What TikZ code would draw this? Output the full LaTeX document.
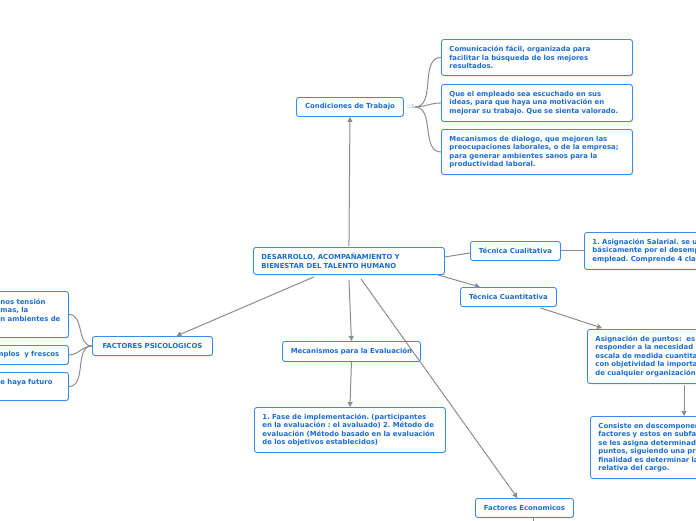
\documentclass[tikz,border=0pt]{standalone}
\usepackage{fontspec}
\setmainfont{DejaVu Sans}
\usepackage{tikz}
\usetikzlibrary{positioning,arrows.meta,calc,shadows}
\frenchspacing
\definecolor{mapblue}{HTML}{3D8BE8}
\definecolor{inkblue}{HTML}{1B6DD6}
\definecolor{linkgray}{HTML}{8C8C8C}
\definecolor{markblue}{HTML}{8DB8EE}
\tikzset{
  >={Triangle[length=5pt, width=5pt]},
  every node/.style={font=\bfseries\fontsize{6.9}{8.5}\selectfont, text=inkblue},
  topic/.style={draw=mapblue, fill=white, rounded corners=2.5pt, line width=0.9pt,
    anchor=north west, inner xsep=8pt, inner ysep=2pt,
    drop shadow={shadow xshift=0.6pt, shadow yshift=-0.8pt, opacity=0.25}},
  flow/.style={->, line width=1pt, draw=linkgray},
  link/.style={line width=1pt, draw=linkgray},
  foldmark/.style={font=\bfseries\fontsize{5}{5}\selectfont, text=markblue, inner sep=0pt},
}

\begin{document}
\begin{tikzpicture}[x=1pt, y=-1pt]
  \useasboundingbox (0,0) rectangle (696,520);
  \clip (0,0) rectangle (696,520);

  % TEMA CENTRAL
  \node[topic, text width=175pt, minimum height=27pt, align=left] (main) at (253,247)
    {DESARROLLO, ACOMPAÑAMIENTO Y\\BIENESTAR DEL TALENTO HUMANO};

  % RAMA SUPERIOR: condiciones de trabajo
  \node[topic, text width=91pt, minimum height=19pt, align=center] (cond) at (296,97)
    {Condiciones de Trabajo};
  \node[foldmark, right=3pt of cond] (fold) {::1};
  \node[topic, text width=175pt, minimum height=36pt, align=left] (c1) at (441,39)
    {Comunicación fácil, organizada para\\facilitar la búsqueda de los mejores\\resultados.};
  \node[topic, text width=175pt, minimum height=37pt, align=left] (c2) at (441,84)
    {Que el empleado sea escuchado en sus\\ideas, para que haya una motivación en\\mejorar su trabajo. Que se sienta valorado.};
  \node[topic, text width=175pt, minimum height=45pt, align=left] (c3) at (441,129)
    {Mecanismos de dialogo, que mejoren las\\preocupaciones laborales, o de la empresa;\\para generar ambientes sanos para la\\productividad laboral.};

  % RAMA DERECHA: tecnicas
  \node[topic, text width=74pt, minimum height=19pt, align=center] (cual) at (470,241)
    {Técnica Cualitativa};
  \node[topic, text width=124pt, minimum height=37pt, align=left] (asal) at (584,232)
    {1. Asignación Salarial. se u\\básicamente por el desemp\\emplead. Comprende 4 cla};
  \node[topic, text width=80pt, minimum height=19pt, align=center] (cuan) at (460,287)
    {Técnica Cuantitativa};
  \node[topic, text width=124pt, minimum height=54pt, align=left] (apun) at (587,329)
    {Asignación de puntos:\ \ es\\responder a la necesidad\\escala de medida cuantita\\con objetividad la importa\\de cualquier organización};
  \node[topic, text width=124pt, minimum height=62pt, align=left] (cons) at (590,416)
    {Consiste en descomponer\\factores y estos en subfa\\se les asigna determinad\\puntos, siguiendo una pr\\finalidad es determinar la\\relativa del cargo.};

  % RAMA IZQUIERDA: factores psicologicos
  \node[topic, text width=104pt, minimum height=19pt, align=center] (psico) at (92,336)
    {FACTORES PSICOLOGICOS};
  \node[topic, text width=60pt, minimum height=46pt, align=left] (l1) at (-8,291)
    {nos tensión\\mas, la\\n ambientes de\\\mbox{}};
  \node[topic, text width=64pt, minimum height=19pt, align=left] (l2) at (-12,345)
    {mplos\ \ y frescos};
  \node[topic, text width=60pt, minimum height=28pt, align=left] (l3) at (-8,372)
    {e haya futuro\\\mbox{}};

  % RAMA INFERIOR: evaluacion y factores economicos
  \node[topic, text width=122pt, minimum height=20pt, align=center] (meca) at (282,341)
    {Mecanismos para la Evaluación};
  \node[topic, text width=175pt, minimum height=45pt, align=left] (fase) at (254,407)
    {1. Fase de implementación. (participantes\\en la evaluación : el avaluado) 2. Método de\\evaluación (Método basado en la evaluación\\de los objetivos establecidos)};
  \node[topic, text width=82pt, minimum height=19pt, align=center] (econ) at (475,498)
    {Factores Economicos};
  \coordinate (econdown) at ($(econ.south)+(9,12)$);

  % ==========================================
  % CONECTORES
  % ==========================================
  \draw[flow] ($(main.north)+(0,-1)$) -- (cond.south);
  \draw[link] (fold.east) to[out=0, in=180] (c1.west);
  \draw[link] (fold.east) to[out=0, in=180] (c2.west);
  \draw[link] (fold.east) to[out=0, in=180] (c3.west);

  \draw[link] ($(main.east)+(0,-4)$) -- ($(cual.west)+(0,2)$);
  \draw[link] (cual.east) -- (cual.east -| asal.west);
  \draw[flow] ($(main.south east)+(-7,0)$) -- ($(cuan.north west)+(20,0)$);
  \draw[flow] ($(cuan.south)+(32,1)$) -- ($(apun.north west)+(15,-1)$);
  \draw[flow] ($(apun.south west)+(97,1)$) -- ($(cons.north west)+(94,0)$);

  \draw[flow] ($(main.south)+(-35,2)$) -- ($(psico.north)+(24,0)$);
  \draw[link] (psico.west) to[out=180, in=0] (l1.east);
  \draw[link] (psico.west) to[out=180, in=0] (l2.east);
  \draw[link] (psico.west) to[out=180, in=0] (l3.east);

  \draw[flow] ($(main.south)+(0,5)$) -- (meca.north);
  \draw[flow] (meca.south) -- (fase.north);
  \draw[flow] ($(main.south)+(12,4)$) -- ($(econ.north)+(-7,0)$);
  \draw[link] ($(econ.south)+(9,0)$) -- (econdown);
\end{tikzpicture}
\end{document}
